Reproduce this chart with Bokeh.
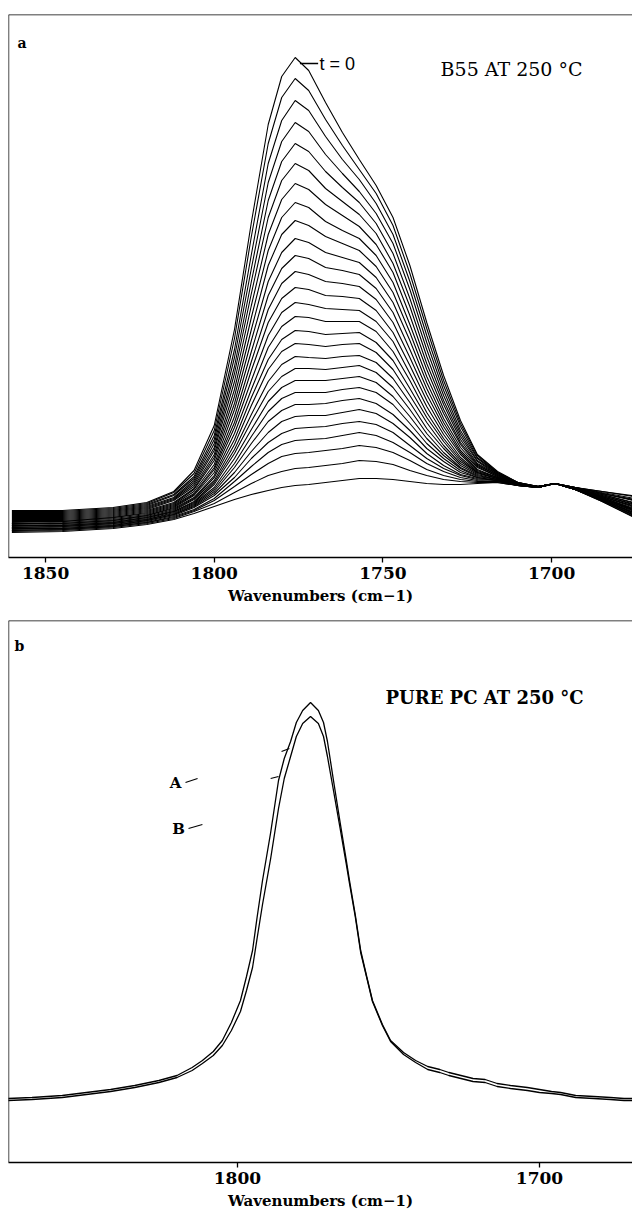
from bokeh.plotting import figure
from bokeh.layouts import column
from bokeh.models import Range1d, Span, Label, FixedTicker, ColumnDataSource
from bokeh.embed import file_html
from bokeh.resources import INLINE

# ---------------- data (absorbance, arbitrary units) ----------------
# panel a: B55 blend at 250 C, spectra from t=0 (first) to the last one
wn_a = [1860, 1845, 1830, 1820, 1812, 1806, 1800, 1794, 1789, 1784, 1780, 1776,
        1772, 1767, 1762, 1757, 1752, 1747, 1742, 1737, 1732, 1727, 1722, 1716,
        1710, 1704, 1699, 1693, 1685, 1672]
b55_spectra = [
    [47,47,50,55,66,87,132,228,335,433,481,500,487,455,425,398,372,340,292,235,182,137,103,86,75,71,74,70,66,60],
    [46,46,49,54,65,84,127,219,321,414,460,479,467,438,412,388,364,332,284,229,177,134,102,85,75,71,74,70,66,59],
    [45,45,48,53,63,81,122,208,303,394,437,457,447,421,398,378,354,323,276,222,172,131,100,85,75,71,74,70,65,57],
    [44,44,47,52,62,79,118,200,289,375,416,435,426,403,384,366,344,314,268,215,167,127,99,84,75,71,74,70,64,56],
    [43,43,46,51,60,77,114,191,276,357,396,414,406,386,370,355,334,304,259,208,162,124,97,84,74,71,74,70,64,55],
    [42,42,45,50,59,75,110,184,264,340,377,394,387,369,356,343,324,294,251,201,157,121,96,83,74,71,74,70,64,54],
    [41,41,44,49,58,73,107,176,252,323,358,374,368,353,342,331,313,285,242,194,153,118,94,83,74,71,74,69,63,52],
    [40,40,43,48,57,71,103,168,240,307,340,355,350,336,327,319,302,275,233,188,148,115,93,82,74,71,74,69,63,51],
    [39,39,42,47,55,69,100,161,228,292,323,337,332,321,314,307,291,265,225,181,144,113,92,82,74,71,74,69,62,50],
    [38,38,41,46,54,68,97,154,217,276,305,319,315,305,300,295,280,255,217,175,139,110,91,81,74,71,74,69,62,49],
    [37,37,40,45,53,66,93,148,206,262,289,302,299,290,287,283,269,245,208,169,135,107,90,81,74,71,74,69,61,48],
    [36,36,40,44,52,64,90,141,196,248,274,286,283,276,274,271,258,235,200,163,131,105,88,80,74,71,74,69,61,47],
    [35,36,39,43,51,63,88,135,187,235,259,270,268,262,261,259,247,225,192,157,127,103,87,80,73,71,74,69,61,46],
    [34,35,38,42,50,62,85,130,177,222,245,255,253,249,248,247,236,216,184,151,123,100,86,80,73,71,74,69,60,45],
    [34,34,37,42,49,60,82,124,168,210,231,241,240,236,236,236,226,206,177,145,119,98,85,79,73,70,74,69,60,44],
    [33,34,37,41,48,59,80,118,160,198,218,227,226,223,224,225,215,197,169,140,116,96,85,79,73,70,74,69,60,43],
    [32,33,36,40,47,58,77,113,152,188,206,214,213,211,213,214,205,188,162,135,112,94,84,79,73,70,74,69,59,43],
    [32,32,35,40,46,56,75,108,143,176,193,201,200,199,201,202,195,179,155,129,109,92,83,78,73,70,74,69,59,42],
    [31,32,35,39,46,55,73,104,136,166,181,189,189,188,190,192,185,170,148,124,105,90,82,78,73,70,74,69,59,41],
    [30,31,34,38,45,54,70,99,128,156,170,177,177,177,179,181,175,161,141,119,102,89,81,78,73,70,74,68,58,40],
    [30,31,34,38,44,53,68,94,121,146,159,165,165,165,168,170,165,153,134,114,99,87,80,77,73,70,74,68,58,40],
    [29,30,33,37,43,52,66,90,114,136,147,153,153,154,157,159,154,143,127,109,96,85,80,77,73,70,74,68,58,39],
    [29,29,32,37,43,51,64,85,106,125,136,141,142,142,145,148,144,134,120,104,92,83,79,77,72,70,74,68,58,38],
    [28,29,32,36,42,50,62,80,99,115,124,129,130,131,134,136,133,125,112,99,89,82,78,77,72,70,74,68,57,37],
    [27,28,31,35,41,48,59,76,91,105,113,117,118,119,122,125,122,115,105,94,86,80,77,76,72,70,74,68,57,37],
    [27,28,31,35,40,47,57,71,83,94,101,104,105,107,109,112,110,105,97,88,82,78,76,76,72,70,74,68,57,36],
    [26,27,30,34,39,46,54,65,74,82,86,89,90,92,94,97,96,93,87,82,78,76,75,75,72,70,74,68,56,35],
    [25,26,29,33,38,44,51,58,63,67,70,72,73,75,77,79,79,78,76,74,73,73,74,75,72,70,74,68,56,34],
]
ticks_a = [1850, 1800, 1750, 1700]

# panel b: pure PC at 250 C, spectra A and B
wn_b = [1876, 1868, 1858, 1850, 1842, 1834, 1826, 1820, 1815, 1811.6, 1808, 1805,
        1802, 1799, 1797, 1795, 1793.5, 1791.7, 1789, 1786.4, 1784.5, 1782.4, 1780.5,
        1778.4, 1775.8, 1773.2, 1771.5, 1770.2, 1768.2, 1766, 1764, 1762.9, 1761,
        1759.2, 1757.2, 1755.3, 1752, 1749.3, 1745, 1741, 1737, 1733, 1730, 1726,
        1722, 1718, 1714, 1709.6, 1704, 1700, 1696, 1693, 1688, 1682, 1676.5, 1672,
        1669]
pc_A = [64, 65, 67, 70, 73, 77, 82, 87, 95, 102, 111, 122,
        140, 162, 186, 212, 245, 282, 330, 382, 404, 421, 440,
        452, 460, 452, 440, 421, 382, 340, 303, 282, 248,
        212, 186, 162, 138, 122, 110, 102, 96, 93, 90, 87,
        84, 83, 79, 77, 75, 73, 71, 70, 67, 66, 65, 64,
        64]
pc_B = [62, 63, 65, 68, 71, 75, 80, 85, 92, 99, 107, 117,
        132, 151, 172, 195, 224, 258, 304, 354, 384, 406, 426,
        439, 446, 439, 426, 406, 372, 334, 299, 279, 246,
        210, 185, 161, 137, 121, 108, 100, 93, 90, 87, 84,
        81, 80, 76, 74, 72, 70, 69, 68, 65, 64, 63, 62,
        62]
ticks_b = [1800, 1700]

# ---------------- styling ----------------
SERIF = "DejaVu Serif"
SANS = "Liberation Sans"
XR_A = (1861.0, 1676.0)
XR_B = (1875.8, 1669.2)


def make_fig(xr, yr, height, top, bottom, ticks):
    p = figure(width=632, height=height, x_range=Range1d(*xr), y_range=Range1d(*yr),
               output_backend="svg", toolbar_location=None,
               min_border_left=8, min_border_right=0,
               min_border_top=top, min_border_bottom=bottom)
    p.yaxis.visible = False
    p.grid.visible = False
    p.outline_line_color = None
    p.background_fill_color = "white"
    p.border_fill_color = "white"
    ax = p.xaxis[0]
    ax.ticker = FixedTicker(ticks=ticks)
    ax.minor_tick_line_color = None
    ax.major_tick_in = 0
    ax.major_tick_out = 5
    ax.axis_line_width = 1.6
    ax.major_tick_line_width = 1.3
    ax.major_label_text_font = SERIF
    ax.major_label_text_font_style = "bold"
    ax.major_label_text_font_size = "17px"
    ax.major_label_text_color = "black"
    ax.major_label_standoff = 4
    ax.axis_label = "Wavenumbers (cm\u22121)"
    ax.axis_label_text_font = SERIF
    ax.axis_label_text_font_style = "bold"
    ax.axis_label_text_font_size = "15px"
    ax.axis_label_text_color = "black"
    ax.axis_label_standoff = 5
    p.add_layout(Span(location=xr[0], dimension="height", line_color="black", line_width=1.4))
    p.add_layout(Span(location=yr[1], dimension="width", line_color="black", line_width=1.7))
    return p


# ---------------- panel a ----------------
pa = make_fig(XR_A, (0, 543), 608, 14, 51, ticks_a)
src_a = ColumnDataSource(dict(xs=[wn_a] * len(b55_spectra), ys=b55_spectra))
pa.multi_line(xs="xs", ys="ys", source=src_a, line_color="black", line_width=1.1)

t0_y = 494
pa.segment(x0=[1774.6], y0=[t0_y], x1=[1769.2], y1=[t0_y], line_color="black", line_width=1.6)
pa.add_layout(Label(x=1768.8, y=t0_y, text="t = 0", text_font=SANS, text_font_size="18px",
                    text_baseline="middle", text_align="left", text_color="black"))
pa.add_layout(Label(x=1732.9, y=489, text="B55 AT 250 \u00b0C", text_font=SERIF,
                    text_font_size="19px", text_baseline="middle", text_align="left",
                    text_color="black"))
pa.add_layout(Label(x=1858.3, y=515, text="a", text_font=SERIF, text_font_style="bold",
                    text_font_size="14px", text_baseline="middle", text_align="left",
                    text_color="black"))

# ---------------- panel b ----------------
pb = make_fig(XR_B, (0, 542), 604, 12, 50, ticks_b)
pb.line(wn_b, pc_A, line_color="black", line_width=1.3)
pb.line(wn_b, pc_B, line_color="black", line_width=1.3)

pb.add_layout(Label(x=1873.8, y=517, text="b", text_font=SERIF, text_font_style="bold",
                    text_font_size="14px", text_baseline="middle", text_align="left",
                    text_color="black"))
pb.add_layout(Label(x=1751.0, y=465, text="PURE PC AT 250 \u00b0C", text_font=SERIF,
                    text_font_style="bold", text_font_size="18px", text_baseline="middle",
                    text_align="left", text_color="black"))
pb.add_layout(Label(x=1820.5, y=380, text="A", text_font=SERIF, text_font_style="bold",
                    text_font_size="15px", text_baseline="middle", text_align="center",
                    text_color="black"))
pb.add_layout(Label(x=1819.5, y=334, text="B", text_font=SERIF, text_font_style="bold",
                    text_font_size="15px", text_baseline="middle", text_align="center",
                    text_color="black"))
# short leader marks next to the labels and at the curves
lead_x0 = [1817.2, 1816.2, 1785.4, 1789.0]
lead_y0 = [380, 334, 411, 384]
lead_x1 = [1813.2, 1811.6, 1782.8, 1786.4]
lead_y1 = [384, 338, 414, 386]
pb.segment(x0=lead_x0, y0=lead_y0, x1=lead_x1, y1=lead_y1, line_color="black", line_width=1.1)

layout = column(pa, pb, spacing=0)
open("out.html", "w").write(file_html(layout, INLINE))
